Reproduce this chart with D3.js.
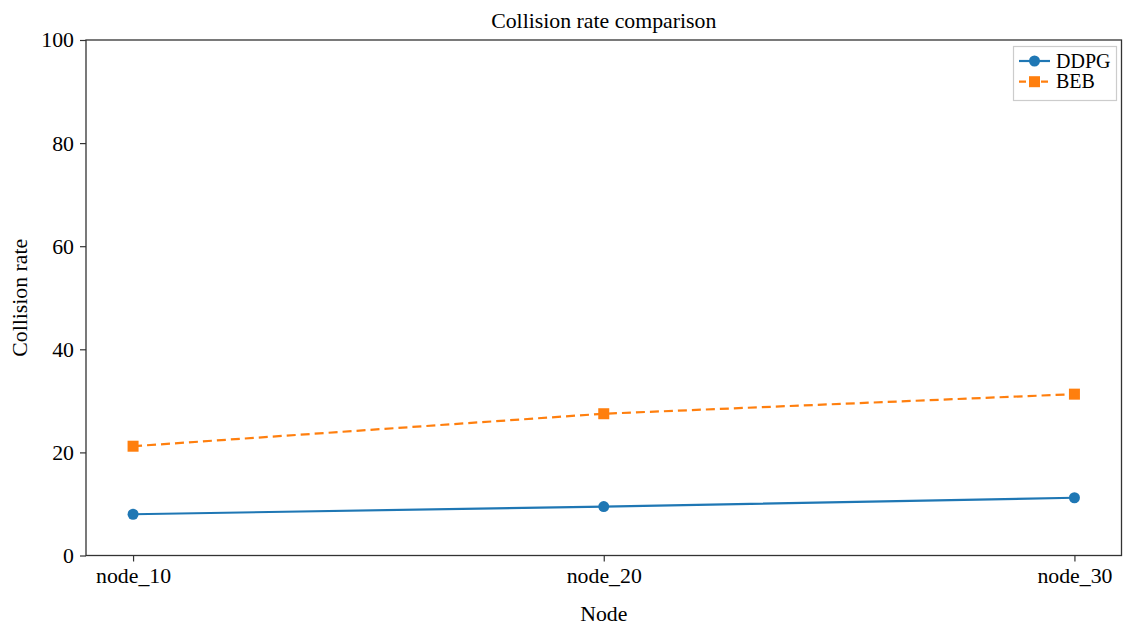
<!DOCTYPE html>
<html><head><meta charset="utf-8">
<script src="https://cdn.jsdelivr.net/npm/d3@7"></script>
<style>body{margin:0;background:#fff;} text{font-family:"Liberation Serif","Times New Roman",serif;fill:#000;}</style>
</head><body><svg id="c" width="1125" height="626"></svg>
<script>
const categories = ["node_10","node_20","node_30"];
const ddpg = [8.0, 9.5, 11.2];
const beb = [21.2, 27.5, 31.3];
const yTicks = [0,20,40,60,80,100];

const svg = d3.select("#c");
const L=86, R=1121.5, T=40, B=555.5;
const FS=21.8;
const x = d3.scaleLinear().domain([-0.1, 2.1]).range([L,R]);
const y = d3.scaleLinear().domain([0,100]).range([B,T]);

const g = svg.append("g");
g.append("rect").attr("x",L).attr("y",T).attr("width",R-L).attr("height",B-T).attr("fill","none").attr("stroke","#333").attr("stroke-width",1.3);

const ya = g.append("g").attr("transform",`translate(${L},0)`).call(d3.axisLeft(y).tickValues(yTicks).tickSize(6).tickPadding(6));
const xa = g.append("g").attr("transform",`translate(0,${B})`).call(d3.axisBottom(x).tickValues([0,1,2]).tickFormat(i=>categories[i]).tickSize(6).tickPadding(6));
[ya,xa].forEach(a=>{a.select(".domain").remove();a.selectAll("line").attr("stroke","#333").attr("stroke-width",1.2);a.selectAll("text").attr("font-size",FS).attr("font-family","Liberation Serif").attr("fill","#000");});

const line = d3.line().x((d,i)=>x(i)).y(d=>y(d));
g.append("path").datum(beb).attr("d",line).attr("fill","none").attr("stroke","#ff7f0e").attr("stroke-width",2.2).attr("stroke-dasharray","9,5");
g.append("path").datum(ddpg).attr("d",line).attr("fill","none").attr("stroke","#1f77b4").attr("stroke-width",2.2);
g.selectAll(".dm").data(ddpg).enter().append("circle").attr("cx",(d,i)=>x(i)).attr("cy",d=>y(d)).attr("r",5.5).attr("fill","#1f77b4");
g.selectAll(".bm").data(beb).enter().append("rect").attr("x",(d,i)=>x(i)-5.5).attr("y",d=>y(d)-5.5).attr("width",11).attr("height",11).attr("fill","#ff7f0e");

svg.append("text").attr("x",(L+R)/2).attr("y",28).attr("text-anchor","middle").attr("font-size",FS).text("Collision rate comparison");
svg.append("text").attr("x",(L+R)/2).attr("y",621).attr("text-anchor","middle").attr("font-size",FS).text("Node");
svg.append("text").attr("transform",`translate(27,${(T+B)/2}) rotate(-90)`).attr("text-anchor","middle").attr("font-size",FS).text("Collision rate");

const lg = svg.append("g");
lg.append("rect").attr("x",1013.5).attr("y",46.5).attr("width",103).attr("height",54).attr("fill","#fff").attr("stroke","#ccc").attr("stroke-width",1.2);
const items=[{n:"DDPG",c:"#1f77b4",d:null,m:"c"},{n:"BEB",c:"#ff7f0e",d:"7,4",m:"s"}];
items.forEach((it,k)=>{
  const yy=61+k*20.7;
  lg.append("line").attr("x1",1019).attr("x2",1050).attr("y1",yy).attr("y2",yy).attr("stroke",it.c).attr("stroke-width",2.2).attr("stroke-dasharray",it.d);
  if(it.m==="c") lg.append("circle").attr("cx",1034.5).attr("cy",yy).attr("r",5.5).attr("fill",it.c);
  else lg.append("rect").attr("x",1029).attr("y",yy-5.5).attr("width",11).attr("height",11).attr("fill",it.c);
  lg.append("text").attr("x",1056).attr("y",yy+6.5).attr("font-size",20).text(it.n);
});
</script></body></html>
